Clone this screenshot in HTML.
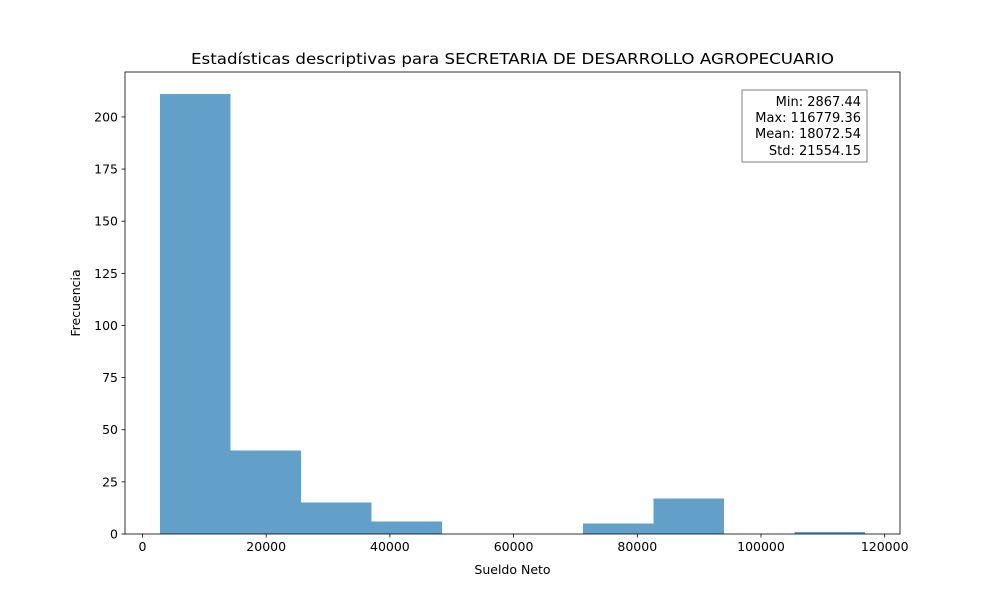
<!DOCTYPE html>
<html><head><meta charset="utf-8"><style>
body{margin:0;background:#fff;font-family:"DejaVu Sans","Liberation Sans",sans-serif;}
</style></head><body>
<svg id="chart" width="1000" height="600" xmlns="http://www.w3.org/2000/svg" font-family="DejaVu Sans, Liberation Sans, sans-serif">
<rect width="1000" height="600" fill="#fff"/>
<g id="bars"></g>
<g id="axes"></g>
<text x="512.5" y="64" font-size="15" text-anchor="middle" textLength="643" lengthAdjust="spacingAndGlyphs">Estadísticas descriptivas para SECRETARIA DE DESARROLLO AGROPECUARIO</text>
<text x="512.5" y="574" font-size="12.5" text-anchor="middle">Sueldo Neto</text>
<text transform="translate(80,303) rotate(-90)" font-size="12.5" text-anchor="middle">Frecuencia</text>
<g font-size="13">
<rect x="742" y="90" width="125" height="72" fill="#fff" stroke="#808080" stroke-width="1"/>
<text x="861" y="106" text-anchor="end">Min: 2867.44</text>
<text x="861" y="122" text-anchor="end">Max: 116779.36</text>
<text x="861" y="138" text-anchor="end">Mean: 18072.54</text>
<text x="861" y="155" text-anchor="end">Std: 21554.15</text>
</g>
</svg>
<script>
const dataMin = 2867.44;
const dataMax = 116779.36;
const counts = [211, 40, 15, 6, 0, 0, 5, 17, 0, 1];
const xTicks = [0, 20000, 40000, 60000, 80000, 100000, 120000];
const yTicks = [0, 25, 50, 75, 100, 125, 150, 175, 200];
const NS = "http://www.w3.org/2000/svg";
const L = 125, R = 900, T = 72, B = 534;
const span = dataMax - dataMin;
const xLo = dataMin - span * 0.05, xHi = dataMax + span * 0.05;
const yHi = Math.max(...counts) * 1.05;
const xs = v => L + (v - xLo) / (xHi - xLo) * (R - L);
const ys = v => B - v / yHi * (B - T);
function mk(tag, attrs, parent) { const e = document.createElementNS(NS, tag); for (const k in attrs) e.setAttribute(k, attrs[k]); parent.appendChild(e); return e; }
const bars = document.getElementById("bars"), axes = document.getElementById("axes");
const w = span / counts.length;
counts.forEach((c, i) => {
  const x0 = xs(dataMin + i * w), x1 = xs(dataMin + (i + 1) * w);
  const r = mk("rect", {x: x0, y: ys(c), width: x1 - x0, height: ys(0) - ys(c), fill: "#1f77b4", "fill-opacity": 0.7, "shape-rendering": "crispEdges"}, bars);
  
  
});
const frame = mk("rect", {x: L, y: T, width: R - L, height: B - T, fill: "none", stroke: "#000", "stroke-width": 0.8}, axes);


xTicks.forEach(t => {
  const x = xs(t);
  mk("line", {x1: x, x2: x, y1: B, y2: B + 3.5, stroke: "#000", "stroke-width": 0.8}, axes);
  const tx = mk("text", {x: x, y: B + 17, "font-size": 12.5, "text-anchor": "middle"}, axes);
  tx.textContent = t;
  
  
});
yTicks.forEach(t => {
  const y = ys(t);
  mk("line", {x1: L, x2: L - 3.5, y1: y, y2: y, stroke: "#000", "stroke-width": 0.8}, axes);
  const tx = mk("text", {x: L - 7, y: y + 4.5, "font-size": 12.5, "text-anchor": "end"}, axes);
  tx.textContent = t;
  
  
});
</script>
</body></html>
